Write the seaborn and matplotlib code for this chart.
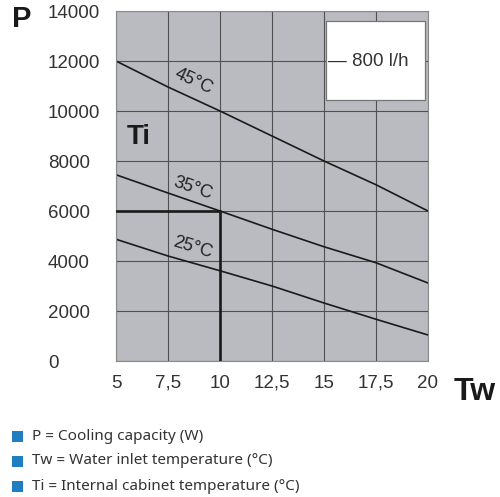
import numpy as np
import pandas as pd
import matplotlib.pyplot as plt
import seaborn as sns

# values
tw = [5, 7.5, 10, 12.5, 15, 17.5, 20]
p_45 = [12000, 10960, 10000, 9000, 8000, 7050, 6000]
p_35 = [7450, 6720, 6000, 5270, 4570, 3930, 3120]
p_25 = [4870, 4200, 3610, 3000, 2320, 1670, 1040]
curve_labels = ["45°C", "35°C", "25°C"]
x_ticks = [5, 7.5, 10, 12.5, 15, 17.5, 20]
x_tick_labels = ["5", "7,5", "10", "12,5", "15", "17,5", "20"]
y_ticks = [0, 2000, 4000, 6000, 8000, 10000, 12000, 14000]
op_tw = 10
op_p = 6000
notes = ["P = Cooling capacity (W)",
         "Tw = Water inlet temperature (°C)",
         "Ti = Internal cabinet temperature (°C)"]

sns.set_style("white")
plt.rcParams["font.family"] = ["Liberation Sans", "DejaVu Sans"]

data = pd.DataFrame({"Tw": tw * 3,
                     "P": p_45 + p_35 + p_25,
                     "Ti": [curve_labels[0]] * 7 + [curve_labels[1]] * 7 + [curve_labels[2]] * 7})

fig = plt.figure(figsize=(5, 4.97), dpi=100)
ax = fig.add_axes([116 / 500, 1 - 361 / 497, 312 / 500, 350 / 497])
ax.set_facecolor("#babbc0")

sns.lineplot(data=data, x="Tw", y="P", units="Ti", estimator=None,
             color="#1a1a1a", lw=1.2, ax=ax, legend=False)

# operating point helper lines
ax.plot([5, op_tw], [op_p, op_p], color="#1a1a1a", lw=1.9, zorder=3)
ax.plot([op_tw, op_tw], [0, op_p], color="#1a1a1a", lw=1.9, zorder=3)

ax.set_xlim(5, 20)
ax.set_ylim(0, 14000)
ax.set_xticks(x_ticks)
ax.set_xticklabels(x_tick_labels)
ax.set_yticks(y_ticks)
ax.set_yticklabels([str(v) for v in y_ticks], ha="left")
ax.grid(True, color="#505050", lw=0.8)
ax.set_axisbelow(True)
ax.tick_params(axis="both", length=0, labelsize=13.5, labelcolor="#333333")
ax.tick_params(axis="y", pad=49)
ax.tick_params(axis="x", pad=10)
ax.set_xlabel("")
ax.set_ylabel("")
for s in ax.spines.values():
    s.set_color("#8a8a8a")
    s.set_linewidth(0.8)

# curve labels
ax.text(8.75, 11200, curve_labels[0], rotation=-25, ha="center", va="center",
        fontsize=13, color="#222222")
ax.text(8.7, 6900, curve_labels[1], rotation=-19, ha="center", va="center",
        fontsize=13, color="#222222")
ax.text(8.7, 4540, curve_labels[2], rotation=-17, ha="center", va="center",
        fontsize=13, color="#222222")
ax.text(6.1, 8960, "Ti", ha="center", va="center", fontsize=20,
        fontweight="bold", color="#1a1a1a")

# flow legend box
leg_box = plt.Rectangle((15.1, 10440), 4.75, 3160, facecolor="white",
                        edgecolor="#777777", lw=0.9, zorder=4)
ax.add_patch(leg_box)
ax.text(15.2, 12000, "— 800 l/h", ha="left", va="center", fontsize=13.5,
        color="#333333", zorder=5)

# axis names
fig.text(22 / 500, 1 - 19 / 497, "P", ha="center", va="center",
         fontsize=21, fontweight="bold", color="#1a1a1a")
fig.text(475 / 500, 1 - 392 / 497, "Tw", ha="center", va="center",
         fontsize=23, fontweight="bold", color="#1a1a1a")

# notes under the chart
for i, note in enumerate(notes):
    y = 1 - (436 + i * 25) / 497
    fig.patches.append(plt.Rectangle((12 / 500, y - 5.5 / 497), 11 / 500, 11 / 497,
                                     transform=fig.transFigure, facecolor="#1f7ec2",
                                     edgecolor="none"))
    fig.text(32 / 500, y, note, ha="left", va="center", fontsize=11,
             family=["Noto Sans", "DejaVu Sans"], color="#333333")

fig.savefig("out.png", dpi=100)
